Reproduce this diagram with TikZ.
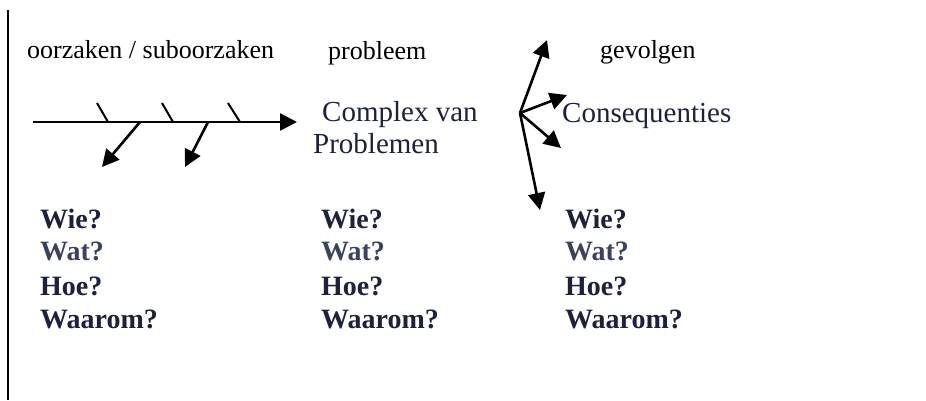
\documentclass[tikz,border=0pt]{standalone}
\usepackage{fontspec}
\setmainfont{Liberation Serif}
\usetikzlibrary{arrows.meta}
\definecolor{inkblue}{HTML}{1C2140}
\definecolor{softblue}{HTML}{3A4262}
\begin{document}
\begin{tikzpicture}[x=1pt,y=-1pt,
  label/.style={anchor=base west,inner sep=0pt,font=\fontsize{26}{30}\selectfont,text=black},
  head/.style={anchor=base west,inner sep=0pt,font=\fontsize{29}{33}\selectfont,text=inkblue},
  ask/.style={anchor=base west,inner sep=0pt,font=\fontsize{28}{33}\selectfont\bfseries,text=inkblue},
  bone/.style={line width=2.6pt,black},
  arr/.style={bone,-{Triangle[length=17pt,width=17pt]}},
  tick/.style={line width=2pt,black}]
\useasboundingbox (0,0) rectangle (926,400);
\fill[white] (0,0) rectangle (926,400);

% left margin rule
\draw[line width=2pt] (8,10) -- (8,400);

% column headings
\node[label] (hcause) at (27,58) {oorzaken / suboorzaken};
\node[label] (hprob)  at (328,59) {probleem};
\node[label] (hcons)  at (600,58) {gevolgen};

% fishbone spine and ribs
\coordinate (spineS) at (33,122);
\coordinate (spineE) at (297,122);
\draw[arr] (spineS) -- (spineE);
\foreach \tx/\ux in {97/108,162/173,228/240}{
  \coordinate (t\tx) at (\tx,103);
  \coordinate (u\tx) at (\ux,122);
  \draw[tick] (t\tx) -- (u\tx);
}
\coordinate (r1s) at (140,122); \coordinate (r1e) at (102,167);
\coordinate (r2s) at (208,122); \coordinate (r2e) at (185,167);
\draw[arr] (r1s) -- (r1e);
\draw[arr] (r2s) -- (r2e);

% problem in the middle
\node[head] (cplx) at (322,121) {Complex van};
\node[head] (probs) at (313,153) {Problemen};

% fan of consequences
\coordinate (fan) at (520,113);
\coordinate (f1) at (547,40);
\coordinate (f2) at (567,95);
\coordinate (f3) at (561,148);
\coordinate (f4) at (540,210);
\foreach \f in {f1,f2,f3,f4} \draw[arr] (fan) -- (\f);
\node[head] (cons) at (562,122) {Consequenties};

% question lists
\foreach \col/\x in {a/40,b/321,c/565}{
  \node[ask] (\col1) at (\x,228) {Wie?};
  \node[ask,text=softblue] (\col2) at (\x,260) {Wat?};
  \node[ask] (\col3) at (\x,295) {Hoe?};
  \node[ask] (\col4) at (\x,328) {Waarom?};
}
\end{tikzpicture}
\end{document}
